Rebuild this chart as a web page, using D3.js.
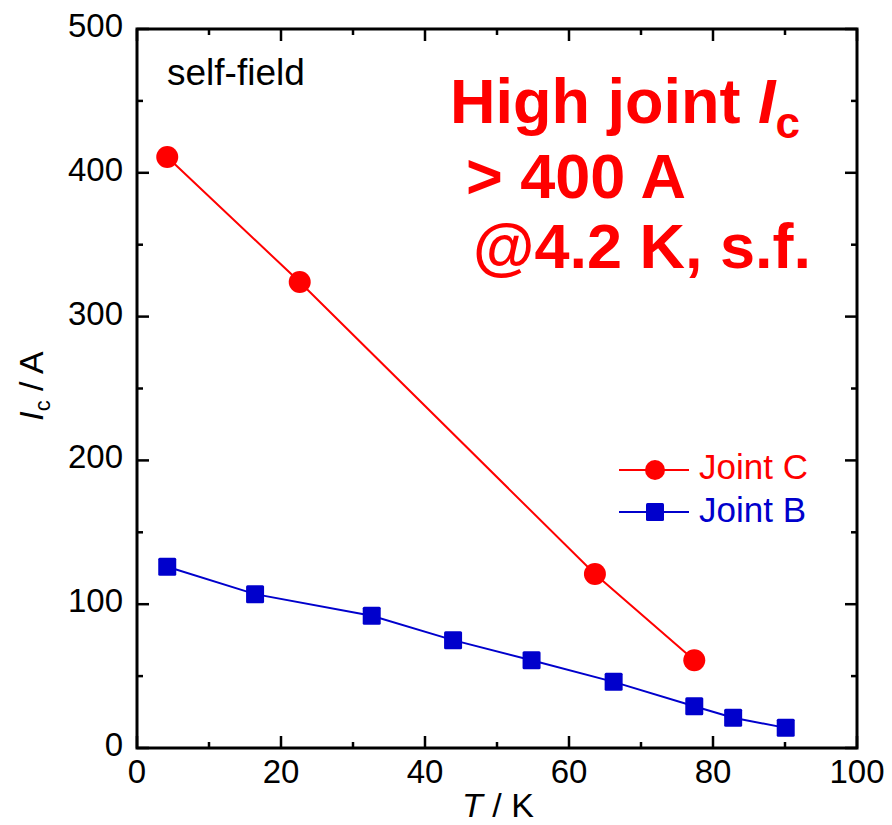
<!DOCTYPE html>
<html><head><meta charset="utf-8">
<script src="https://cdn.jsdelivr.net/npm/d3@7"></script>
<style>body{margin:0;background:#fff}svg{display:block}text{font-family:"Liberation Sans",Arial,sans-serif}</style>
</head><body>
<script>
const jointC_T = [4.2, 22.6, 63.6, 77.4];
const jointC_Ic = [411, 324, 121, 61];
const jointB_T = [4.2, 16.4, 32.6, 43.9, 54.8, 66.2, 77.4, 82.8, 90.1];
const jointB_Ic = [126, 107, 92, 75, 61, 46, 29, 21, 14];
const xTicks = [0, 20, 40, 60, 80, 100];
const yTicks = [0, 100, 200, 300, 400, 500];
const xMinor = [10, 30, 50, 70, 90];
const yMinor = [50, 150, 250, 350, 450];

const W = 892, H = 825;
const L = 137, R = 857, T = 29, B = 748;
const svg = d3.select("body").append("svg").attr("width", W).attr("height", H);
const x = d3.scaleLinear().domain([0, 100]).range([L, R]);
const y = d3.scaleLinear().domain([0, 500]).range([B, T]);

const red = "#ff0000", blue = "#0000cc";

svg.append("rect").attr("x", L).attr("y", T).attr("width", R - L).attr("height", B - T)
  .attr("fill", "none").attr("stroke", "#000").attr("stroke-width", 3);

const tk = svg.append("g").attr("stroke", "#000").attr("stroke-width", 2.5);
xTicks.forEach(v => {
  tk.append("line").attr("x1", x(v)).attr("x2", x(v)).attr("y1", B).attr("y2", B - 12);
  tk.append("line").attr("x1", x(v)).attr("x2", x(v)).attr("y1", T).attr("y2", T + 12);
});
xMinor.forEach(v => {
  tk.append("line").attr("x1", x(v)).attr("x2", x(v)).attr("y1", B).attr("y2", B - 6);
  tk.append("line").attr("x1", x(v)).attr("x2", x(v)).attr("y1", T).attr("y2", T + 6);
});
yTicks.forEach(v => {
  tk.append("line").attr("y1", y(v)).attr("y2", y(v)).attr("x1", L).attr("x2", L + 12);
  tk.append("line").attr("y1", y(v)).attr("y2", y(v)).attr("x1", R).attr("x2", R - 12);
});
yMinor.forEach(v => {
  tk.append("line").attr("y1", y(v)).attr("y2", y(v)).attr("x1", L).attr("x2", L + 6);
  tk.append("line").attr("y1", y(v)).attr("y2", y(v)).attr("x1", R).attr("x2", R - 6);
});

svg.append("g").selectAll("text").data(xTicks).join("text")
  .attr("x", d => x(d)).attr("y", 783).attr("text-anchor", "middle")
  .attr("font-size", 33).text(d => d);
svg.append("g").selectAll("text").data(yTicks).join("text")
  .attr("x", 123).attr("y", d => y(d) + 8).attr("text-anchor", "end")
  .attr("font-size", 33).text(d => d);

const xt = svg.append("text").attr("x", 498).attr("y", 817).attr("text-anchor", "middle").attr("font-size", 34);
xt.append("tspan").attr("font-style", "italic").text("T");
xt.append("tspan").text(" / K");
const yt = svg.append("text").attr("transform", "translate(43,386) rotate(-90)").attr("text-anchor", "middle").attr("font-size", 34);
yt.append("tspan").attr("font-style", "italic").text("I");
yt.append("tspan").attr("font-size", 22).attr("dy", 7).text("c");
yt.append("tspan").attr("dy", -7).text(" / A");

svg.append("text").attr("x", 167).attr("y", 85).attr("font-size", 37).text("self-field");
const big = svg.append("g").attr("fill", red).attr("font-weight", "bold").attr("font-size", 63);
const t1 = big.append("text").attr("x", 450).attr("y", 123);
t1.append("tspan").text("High joint ");
t1.append("tspan").attr("font-style", "italic").text("I");
t1.append("tspan").attr("font-size", 44).attr("dy", 15).text("c");
big.append("text").attr("x", 466).attr("y", 198).text("> 400 A");
big.append("text").attr("x", 473).attr("y", 268).text("@4.2 K, s.f.");

const line = d3.line().x(d => x(d[0])).y(d => y(d[1]));
const dC = jointC_T.map((t, i) => [t, jointC_Ic[i]]);
const dB = jointB_T.map((t, i) => [t, jointB_Ic[i]]);
svg.append("path").datum(dB).attr("d", line).attr("fill", "none").attr("stroke", blue).attr("stroke-width", 2);
svg.append("path").datum(dC).attr("d", line).attr("fill", "none").attr("stroke", red).attr("stroke-width", 2);
svg.append("g").selectAll("rect").data(dB).join("rect")
  .attr("x", d => x(d[0]) - 9).attr("y", d => y(d[1]) - 9).attr("width", 18).attr("height", 18)
  .attr("rx", 1.5).attr("fill", blue);
svg.append("g").selectAll("circle").data(dC).join("circle")
  .attr("cx", d => x(d[0])).attr("cy", d => y(d[1])).attr("r", 11).attr("fill", red);

const lg = svg.append("g");
lg.append("line").attr("x1", 619).attr("x2", 689).attr("y1", 470).attr("y2", 470).attr("stroke", red).attr("stroke-width", 2);
lg.append("circle").attr("cx", 655).attr("cy", 470).attr("r", 10).attr("fill", red);
lg.append("text").attr("x", 699).attr("y", 479).attr("font-size", 35).attr("fill", red).text("Joint C");
lg.append("line").attr("x1", 619).attr("x2", 689).attr("y1", 512).attr("y2", 512).attr("stroke", blue).attr("stroke-width", 2);
lg.append("rect").attr("x", 646).attr("y", 503).attr("width", 18).attr("height", 18).attr("rx", 1.5).attr("fill", blue);
lg.append("text").attr("x", 699).attr("y", 522).attr("font-size", 35).attr("fill", blue).text("Joint B");
</script>
</body></html>
